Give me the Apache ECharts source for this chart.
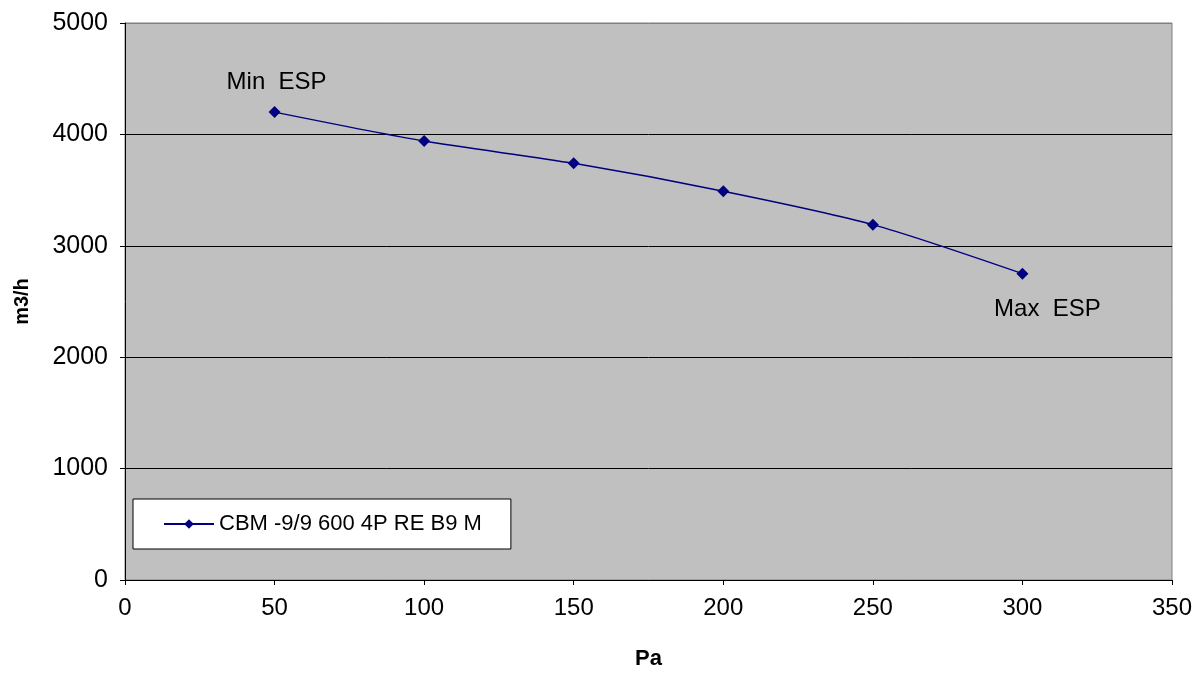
<!DOCTYPE html>
<html>
<head>
<meta charset="utf-8">
<script src="https://cdn.jsdelivr.net/npm/echarts@6/dist/echarts.min.js"></script>
<style>html,body{margin:0;padding:0;background:#fff}#c{width:1204px;height:675px}</style>
</head>
<body>
<div id="c"></div>
<script>
const seriesName = 'CBM -9/9 600 4P RE B9 M';
const pressure = [50, 100, 150, 200, 250, 300];
const flow = [4200, 3940, 3740, 3490, 3190, 2750];
const pointLabels = ['Min  ESP', '', '', '', '', 'Max  ESP'];
const xTitle = 'Pa';
const yTitle = 'm3/h';

const FONT = '"Liberation Sans", Arial, sans-serif';
const chart = echarts.init(document.getElementById('c'), null, {renderer: 'canvas'});

const data = pressure.map((p, i) => {
  const d = {value: [p, flow[i]]};
  if (i === 0) {
    d.label = {show: true, formatter: pointLabels[i], position: 'top', distance: 12, offset: [2, 0]};
  } else if (i === pressure.length - 1) {
    d.label = {show: true, formatter: pointLabels[i], position: 'bottom', distance: 18, offset: [25, 0]};
  }
  return d;
});

chart.setOption({
  animation: false,
  backgroundColor: '#ffffff',
  textStyle: {fontFamily: FONT},
  grid: {
    left: 125, top: 23, right: 32, bottom: 94,
    show: true, backgroundColor: '#c0c0c0', borderColor: '#808080', borderWidth: 1
  },
  legend: {
    left: 133, top: 499,
    orient: 'horizontal',
    backgroundColor: '#ffffff', borderColor: '#000000', borderWidth: 1,
    padding: [14, 29, 14, 30],
    itemWidth: 50, itemHeight: 12, itemGap: 6,
    textStyle: {fontSize: 22, color: '#000', fontFamily: FONT},
    data: [seriesName]
  },
  xAxis: {
    type: 'value', min: 0, max: 350, interval: 50,
    name: xTitle, nameLocation: 'middle', nameGap: 68,
    nameTextStyle: {fontSize: 22, fontWeight: 'bold', color: '#000'},
    axisLine: {show: true, lineStyle: {color: '#000', width: 1}},
    axisTick: {show: true, length: 5, lineStyle: {color: '#000'}},
    axisLabel: {fontSize: 24, color: '#000', margin: 16},
    splitLine: {show: false}
  },
  yAxis: {
    type: 'value', min: 0, max: 5000, interval: 1000,
    name: yTitle, nameLocation: 'middle', nameGap: 93,
    nameTextStyle: {fontSize: 20, fontWeight: 'bold', color: '#000'},
    axisLine: {show: true, lineStyle: {color: '#000', width: 1}},
    axisTick: {show: true, length: 5, lineStyle: {color: '#000'}},
    axisLabel: {fontSize: 25, color: '#000', margin: 17, formatter: v => String(v)},
    splitLine: {show: true, lineStyle: {color: ['#000000','#000000','#000000','#000000','#000000','#808080'], width: 1}}
  },
  series: [{
    name: seriesName,
    type: 'line',
    data: data,
    smooth: 0.25,
    symbol: 'diamond',
    symbolSize: 12,
    itemStyle: {color: '#000080'},
    lineStyle: {color: '#000080', width: 1.5},
    label: {show: false, fontSize: 24, color: '#000', fontFamily: FONT}
  }]
});
</script>
</body>
</html>
